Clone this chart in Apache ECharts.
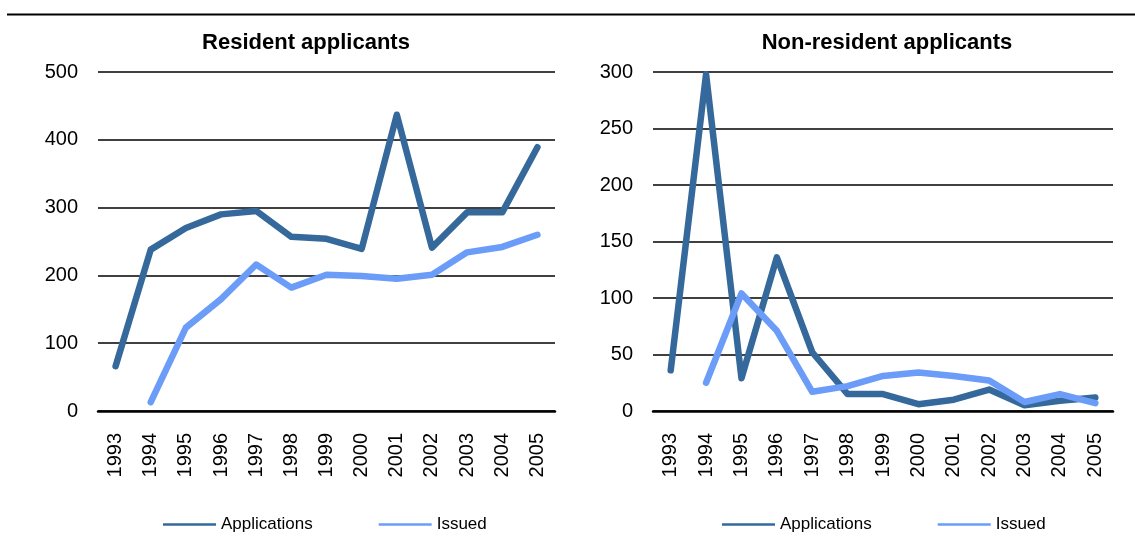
<!DOCTYPE html>
<html>
<head>
<meta charset="utf-8">
<title>Resident and non-resident applicants</title>
<script src="https://cdn.jsdelivr.net/npm/echarts@6/dist/echarts.min.js"></script>
<style>
  html, body { margin: 0; padding: 0; background: #fff; }
  #chart { width: 1135px; height: 548px; }
</style>
</head>
<body>
<div id="chart"></div>
<script>
// Years shared by both panels
const years = ['1993','1994','1995','1996','1997','1998','1999','2000','2001','2002','2003','2004','2005'];

// Resident applicants
const residentApplications = [66, 238, 270, 290, 295, 257, 254, 239, 437, 241, 293, 293, 389];
const residentIssued = [null, 13, 123, 165, 216, 182, 201, 199, 195, 201, 234, 242, 260];

// Non-resident applicants
const nonResidentApplications = [36, 298, 29, 136, 52, 15, 15, 6, 10, 19, 5, 9, 12];
const nonResidentIssued = [null, 25, 104, 71, 17, 22, 31, 34, 31, 27, 8, 15, 7];

const residentTicks = { min: 0, max: 500, interval: 100 };
const nonResidentTicks = { min: 0, max: 300, interval: 50 };

const panelTitles = ['Resident applicants', 'Non-resident applicants'];
const seriesNames = ['Applications', 'Issued'];

const DARK = '#35689b';
const LIGHT = '#6a9cf8';
const FONT = '"Liberation Sans", Arial, sans-serif';

function xAxis(gridIndex) {
  return {
    type: 'category',
    gridIndex,
    data: years,
    boundaryGap: true,
    axisLine: { show: true, lineStyle: { color: '#000', width: 2.5 } },
    axisTick: { show: false },
    axisLabel: {
      rotate: 90,
      margin: 22,
      color: '#000',
      fontFamily: FONT,
      fontSize: 20,
      interval: 0
    }
  };
}

function yAxis(gridIndex, ticks) {
  return {
    type: 'value',
    gridIndex,
    min: ticks.min,
    max: ticks.max,
    interval: ticks.interval,
    axisLine: { show: false },
    axisTick: { show: false },
    splitLine: { lineStyle: { color: '#000', width: 1.5 } },
    axisLabel: { margin: 20, color: '#000', fontFamily: FONT, fontSize: 20 }
  };
}

function line(name, data, idx, color) {
  return {
    name,
    type: 'line',
    xAxisIndex: idx,
    yAxisIndex: idx,
    data,
    symbol: 'none',
    connectNulls: false,
    clip: false,
    lineStyle: { color, width: 6.5, cap: 'round', join: 'round' },
    itemStyle: { color }
  };
}

function legend(left) {
  return {
    left,
    top: 511,
    icon: 'rect',
    itemWidth: 53,
    itemHeight: 2.5,
    itemGap: 66,
    data: [
      { name: seriesNames[0], itemStyle: { color: DARK } },
      { name: seriesNames[1], itemStyle: { color: LIGHT } }
    ],
    textStyle: { color: '#000', fontFamily: FONT, fontSize: 17 },
    selectedMode: false
  };
}

const chart = echarts.init(document.getElementById('chart'), null, { renderer: 'canvas' });

chart.setOption({
  backgroundColor: '#fff',
  animation: false,
  title: [
    { text: panelTitles[0], left: 301, top: 27, textAlign: 'center',
      textStyle: { fontFamily: FONT, fontWeight: 'bold', fontSize: 22, color: '#000' } },
    { text: panelTitles[1], left: 882, top: 27, textAlign: 'center',
      textStyle: { fontFamily: FONT, fontWeight: 'bold', fontSize: 22, color: '#000' } }
  ],
  grid: [
    { left: 98, right: 580, top: 72, bottom: 137 },
    { left: 653, right: 22, top: 72, bottom: 137 }
  ],
  xAxis: [xAxis(0), xAxis(1)],
  yAxis: [yAxis(0, residentTicks), yAxis(1, nonResidentTicks)],
  legend: [legend(158), legend(717)],
  series: [
    line(seriesNames[0], residentApplications, 0, DARK),
    line(seriesNames[1], residentIssued, 0, LIGHT),
    line(seriesNames[0], nonResidentApplications, 1, DARK),
    line(seriesNames[1], nonResidentIssued, 1, LIGHT)
  ],
  graphic: [
    { type: 'line', shape: { x1: 7, y1: 14.5, x2: 1135, y2: 14.5 },
      style: { stroke: '#000', lineWidth: 2 }, silent: true }
  ]
});
</script>
</body>
</html>
